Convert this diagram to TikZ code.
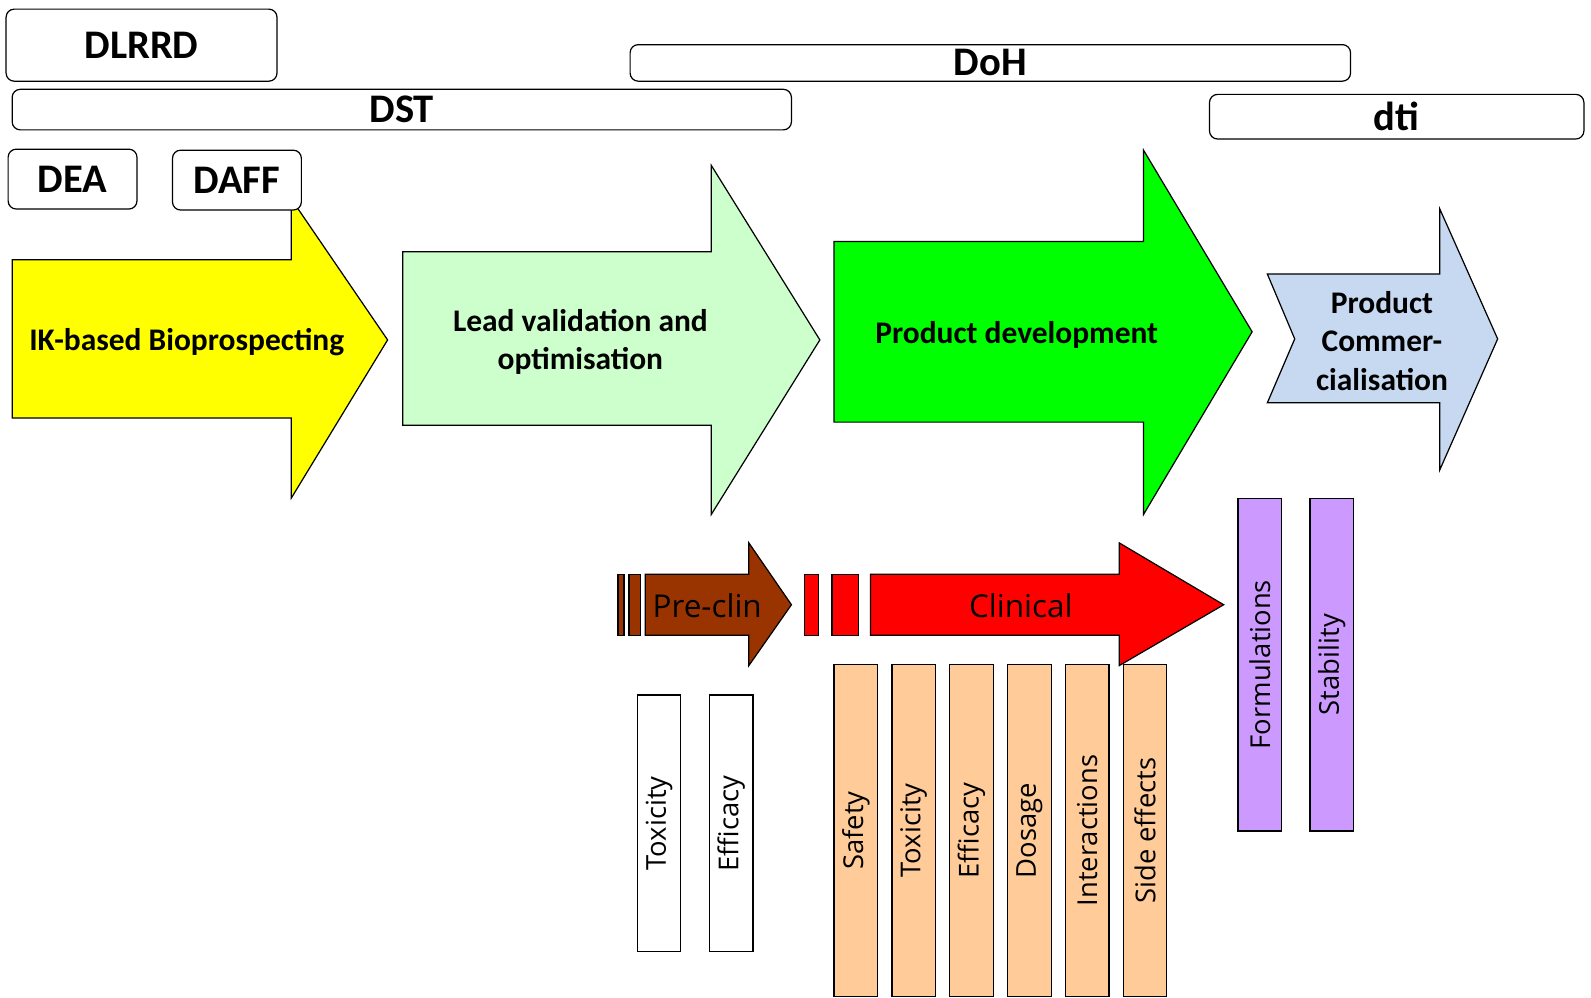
\documentclass[tikz,border=0pt]{standalone}
\usepackage{fontspec}
\setmainfont{Open Sans}
\newfontfamily\calibri{Carlito}
\definecolor{ikyellow}{HTML}{FFFF00}
\definecolor{leadgreen}{HTML}{CCFFCC}
\definecolor{prodgreen}{HTML}{00FF00}
\definecolor{commblue}{HTML}{C6D9F1}
\definecolor{preclin}{HTML}{993300}
\definecolor{clinred}{HTML}{FF0000}
\definecolor{peach}{HTML}{FFCC99}
\definecolor{lilac}{HTML}{CC99FF}
\tikzset{
  orgbox/.style={draw, fill=white, rounded corners=8pt, font=\calibri\bfseries\fontsize{40}{44}\selectfont},
  stagetext/.style={font=\calibri\bfseries\fontsize{31}{38}\selectfont, align=center},
  bartext/.style={font=\fontsize{27}{30}\selectfont, rotate=90}
}

\begin{document}
\begin{tikzpicture}[x=1pt, y=-1pt, line width=1.2pt]
  \useasboundingbox (0,0) rectangle (1568,983);

  % main stages
  \draw[fill=ikyellow] (12,256) -- (287,256) -- (287,196) -- (382,335) -- (287,491) -- (287,412) -- (12,412) -- cycle;
  \node[stagetext] (ik) at (184,337) {IK-based Bioprospecting};
  \draw[fill=leadgreen] (397,248) -- (701,248) -- (701,163) -- (808,335) -- (701,507) -- (701,419) -- (397,419) -- cycle;
  \node[stagetext] (lead) at (572,337) {Lead validation and\\optimisation};
  \draw[fill=prodgreen] (822,238) -- (1127,238) -- (1127,148) -- (1234,327) -- (1127,507) -- (1127,416) -- (822,416) -- cycle;
  \node[stagetext] (prod) at (1002,330) {Product development};
  \draw[fill=commblue] (1249,270) -- (1419,270) -- (1419,206) -- (1476,334) -- (1419,463) -- (1419,397) -- (1249,397) -- (1276,334) -- cycle;
  \node[stagetext] (comm) at (1362,336) {Product\\Commer-\\cialisation};

  % departments
  \node[orgbox, minimum width=267pt, minimum height=71pt] (dlrrd) at (139.5,44.5) {DLRRD};
  \node[orgbox, minimum width=768pt, minimum height=40pt, inner sep=0pt] (dst) at (396,108) {DST};
  \node[orgbox, minimum width=710pt, minimum height=36pt, inner sep=0pt] (doh) at (976,62) {DoH};
  \node[orgbox, minimum width=369pt, minimum height=44pt, inner sep=0pt] (dti) at (1376.5,115) {dti};
  \node[orgbox, minimum width=127pt, minimum height=59pt] (dea) at (71.5,176.5) {DEA};
  \node[orgbox, minimum width=127pt, minimum height=59pt] (daff) at (233.5,177.5) {DAFF};

  % trials
  \foreach \x/\t in {628/Toxicity, 699/Efficacy}
    \draw[fill=white] (\x,685) rectangle ++(43,253) node[midway, bartext] (pre\x) {\t};
  \foreach \x/\t in {822/Safety, 879/Toxicity, 936/Efficacy, 993/Dosage, 1050/Interactions, 1107/Side effects}
    \draw[fill=peach] (\x,655) rectangle ++(43,327) node[midway, bartext] (cl\x) {\t};
  \foreach \x/\t in {1220/Formulations, 1291/Stability}
    \draw[fill=lilac] (\x,491) rectangle ++(43,328) node[midway, bartext] (cm\x) {\t};

  \draw[fill=preclin] (609,566) rectangle (615,626);
  \draw[fill=preclin] (620,566) rectangle (631,626);
  \draw[fill=preclin] (636,566) -- (738,566) -- (738,535) -- (780,596) -- (738,656) -- (738,626) -- (636,626) -- cycle;
  \node[font=\fontsize{31}{34}\selectfont] (precl) at (697,597) {Pre-clin};
  \draw[fill=clinred] (793,566) rectangle (807,626);
  \draw[fill=clinred] (820,566) rectangle (846,626);
  \draw[fill=clinred] (858,566) -- (1103,566) -- (1103,535) -- (1206,596) -- (1103,656) -- (1103,626) -- (858,626) -- cycle;
  \node[font=\fontsize{31}{34}\selectfont] (clin) at (1006,597) {Clinical};
\end{tikzpicture}
\end{document}
